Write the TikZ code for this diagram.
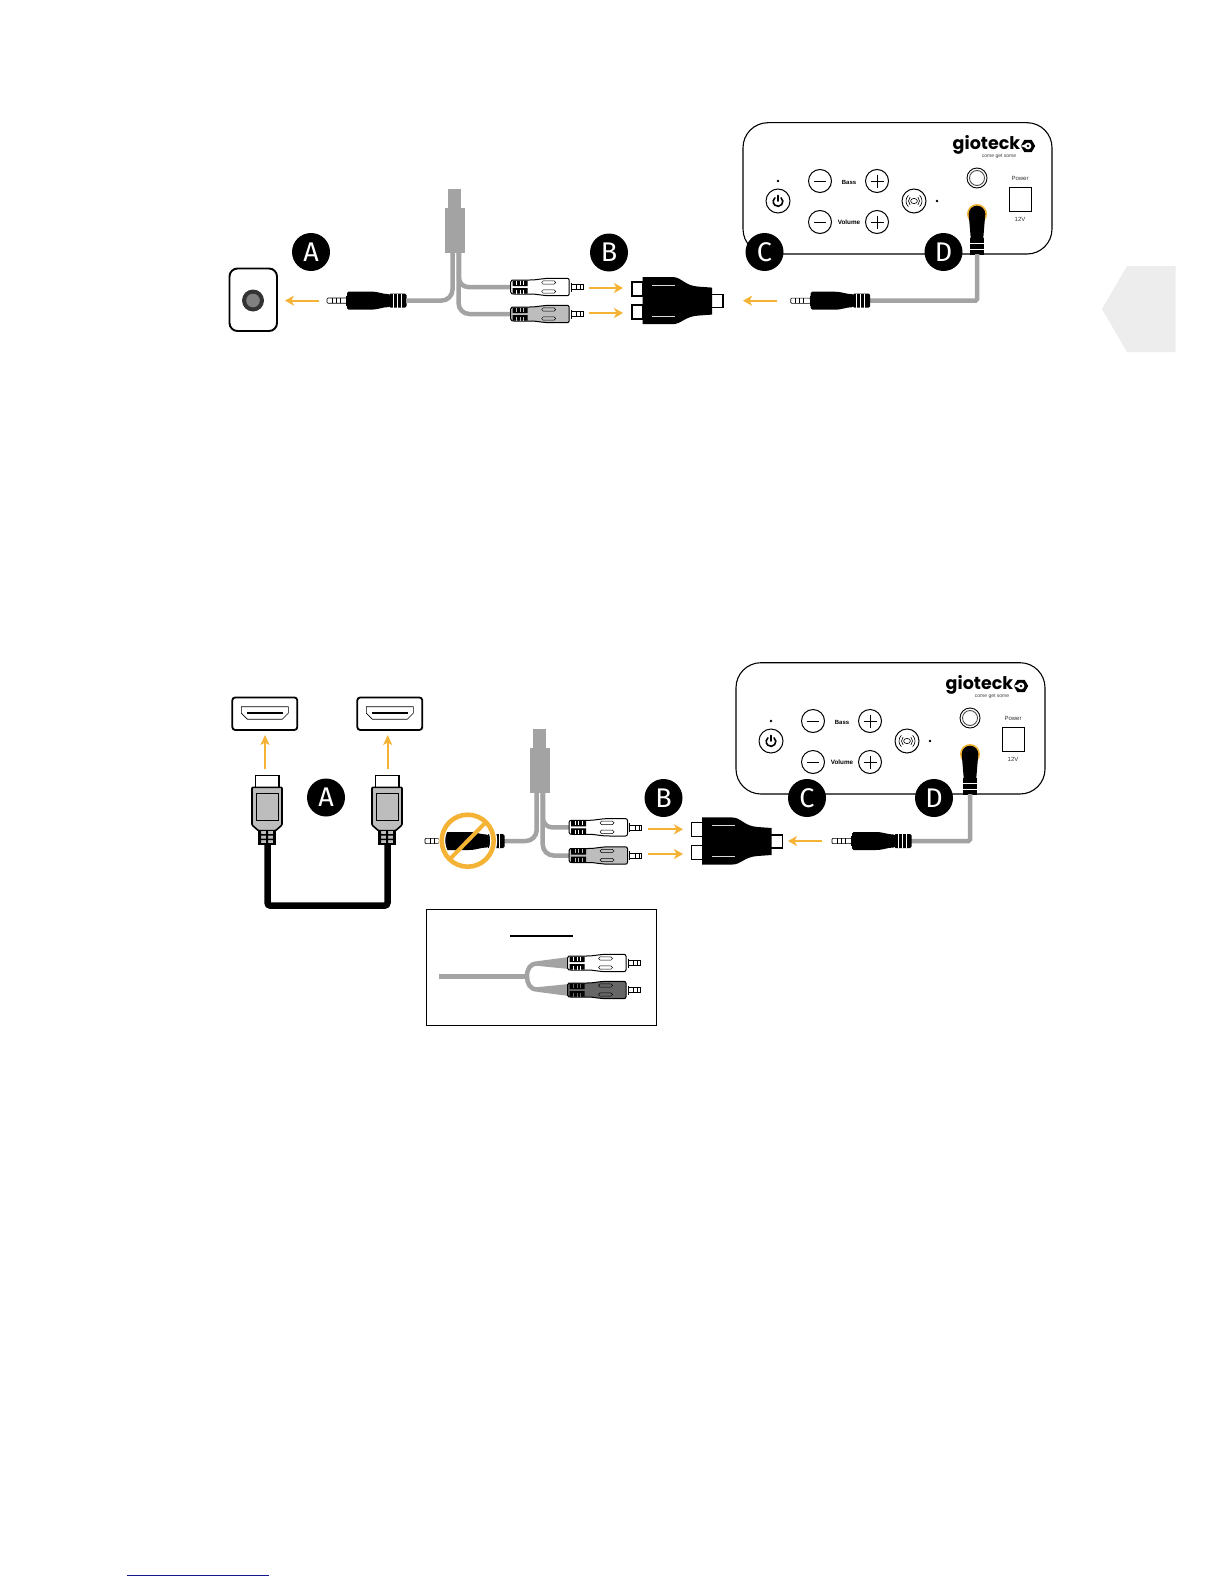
\documentclass[tikz,border=0pt]{standalone}
\usepackage{fontspec}
\setmainfont{Liberation Sans}
\newfontfamily\logofont{Poppins}
\newfontfamily\badgefont{Fira Sans}
\usetikzlibrary{arrows.meta,calc}
\definecolor{amber}{HTML}{F5B335}
\definecolor{cablegray}{HTML}{A3A3A3}
\definecolor{plugfill}{HTML}{BDBDBD}
\definecolor{tabgray}{HTML}{EDEDED}
\definecolor{linkblue}{HTML}{16168C}
\tikzset{
  x=1pt,y=-1pt,
  flow/.style={draw=amber,line width=1.8pt,-{Stealth[length=9pt,width=10pt,inset=2.5pt]}},
  flowthin/.style={draw=amber,line width=1.6pt,-{Stealth[length=10pt,width=9pt,inset=2.5pt]}},
  cable/.style={draw=cablegray,line width=4.5pt},
  badge/.style={circle,fill=black,text=white,minimum size=38pt,inner sep=0pt,font=\badgefont\fontsize{27}{27}\selectfont},
  paneltxt/.style={inner sep=0pt,font=\fontsize{6}{6}\selectfont},
  panelbtn/.style={draw=black,line width=1pt,fill=white},
  plugjack/.pic={
    \draw[black,line width=.6pt,fill=white,rounded corners=1pt] (0,-2.6) rectangle (20,2.6);
    \draw[black,line width=.5pt] (5,-2.6)--(5,2.6) (9,-2.6)--(9,2.6) (13,-2.6)--(13,2.6);
    \draw[black,line width=1pt] (19.5,-5)--(19.5,5);
    \fill[black,rounded corners=1.5pt] (20,-9) -- (42,-9) .. controls (52,-9) and (55,-6.5) .. (63,-6.5) -- (63,6.5) .. controls (55,6.5) and (52,9) .. (42,9) -- (20,9) -- cycle;
    \fill[black,rounded corners=1.5pt] (62,-7) rectangle (79.5,7);
    \draw[white,line width=.9pt] (66,-7)--(66,7) (70,-7)--(70,7) (74,-7)--(74,7);
  },
  rcabody/.pic={
    \draw[black,line width=1pt,fill=\pgfkeysvalueof{/tikz/rcafill},rounded corners=2pt]
      (0,-3) .. controls (0,-7) and (2,-7) .. (5,-7) -- (17,-7) .. controls (28,-7) and (30,-8.7) .. (43,-8.7) -- (58.5,-8.7) -- (58.5,8.7) -- (43,8.7) .. controls (30,8.7) and (28,7) .. (17,7) -- (5,7) .. controls (2,7) and (0,7) .. (0,3) -- cycle;
    \fill[black] (2,-6.5) rectangle (17,-1) (2,1) rectangle (17,6.5);
    \draw[\pgfkeysvalueof{/tikz/rcafill},line width=.7pt] (6,-6.5)--(6,-2.5) (9.5,-6.5)--(9.5,-2.5) (13,-6.5)--(13,-2.5) (6,2.5)--(6,6.5) (9.5,2.5)--(9.5,6.5) (13,2.5)--(13,6.5);
    \draw[black,line width=.5pt,rounded corners=1.6pt] (31,-6.2) rectangle (45,-2.8) (31,2.8) rectangle (45,6.2);
    \draw[black,line width=1pt] (60.5,-4.5)--(60.5,4.5);
    \draw[black,line width=.6pt] (60.5,-2.5) rectangle (72.5,2.5);
    \draw[black,line width=.6pt] (66,-2.5)--(66,2.5) (70,-2.5)--(70,2.5);
  },
  rcafill/.initial=white,
  splitter/.pic={
    \fill[cablegray] (3,-19.5) rectangle (16,0);
    \fill[cablegray] (0,0) rectangle (20,44.5);
  },
  adapter/.pic={
    \draw[black,line width=1.6pt,fill=white] (0,-18.6) rectangle (11,-4.6);
    \draw[black,line width=1.6pt,fill=white] (0,4.4) rectangle (11,18.4);
    \draw[black,line width=1.4pt,fill=white] (79,-6) rectangle (91,7);
    \fill[black] (10.7,-23.6) -- (40,-23.6) .. controls (50,-23.6) and (52,-15) .. (66,-14) -- (80,-13) -- (80,14) -- (66,15) .. controls (52,16) and (50,23.6) .. (40,23.6) -- (10.7,23.6) -- cycle;
    \draw[white!85!black,line width=.9pt] (20,-15.6)--(43,-15.6) (20,15.4)--(43,15.4);
  },
  hdmiport/.pic={
    \draw[black,line width=1.8pt,rounded corners=3pt,fill=white] (-32.5,-16.3) rectangle (32.5,16.3);
    \draw[black,line width=.6pt] (-23.5,-7) -- (23.5,-7) -- (23.5,-.5) -- (17.5,5.5) -- (-17.5,5.5) -- (-23.5,-.5) -- cycle;
    \draw[black,line width=1.8pt] (-18,-.5) -- (18,-.5);
  },
  hdmiplug/.pic={
    \draw[black,line width=1.4pt,fill=white] (-11.5,0) rectangle (12,11.6);
    \draw[black,line width=1.6pt,fill=plugfill,rounded corners=1pt] (-15,11.6) -- (15,11.6) -- (15,49.3) -- (8.5,55) -- (-8.5,55) -- (-15,49.3) -- cycle;
    \draw[black,line width=.8pt] (-11,17.6) rectangle (11.7,44.3);
    \draw[black,line width=1.4pt,fill=plugfill] (-8.5,55) rectangle (8.5,68.3);
    \fill[black] (-8.5,55) rectangle (-6,68.3) (6,55) rectangle (8.5,68.3) (-1,55) rectangle (1,68.3);
    \fill[black] (-8.5,58.5) rectangle (8.5,60) (-8.5,63) rectangle (8.5,64.5);
  },
  panelpic/.pic={
    \draw[black,line width=1.1pt,fill=white,rounded corners=25pt] (743,122.7) rectangle (1052,254);
    % logo
    \node[anchor=base west,inner sep=0pt,text depth=0pt,font=\logofont\bfseries\fontsize{17.5}{17.5}\selectfont] (logo) at (952.5,149.6) {gioteck};
    \node[inner sep=0pt,font=\fontsize{5}{5}\selectfont,text=black!75] (tag) at (999,156.6) {come get some};
    \fill[black] (1020.8,146) -- (1024.4,139.8) -- (1031.6,139.8) -- (1035.2,146) -- (1031.6,152.2) -- (1024.4,152.2) -- cycle;
    \fill[white] (1028,146) circle[radius=3.4];
    \fill[black] (1028,146) circle[radius=1.4];
    \fill[white] (1020.5,146) -- (1025,144.4) -- (1025,147.6) -- cycle;
    % left power button
    \fill[black] (778,181) circle[radius=1.3];
    \draw[panelbtn] (778,201) circle[radius=12];
    \draw[black,line width=1.6pt,line cap=round] (778,195.5) -- (778,201);
    \draw[black,line width=1.6pt,line cap=round] (778,201.5) ++(-50:4.8) arc[start angle=-50,end angle=230,radius=4.8];
    % bass and volume
    \foreach \bx/\by in {820/181,820/222}{
      \draw[panelbtn] (\bx,\by) circle[radius=11.5];
      \draw[black,line width=.9pt] (\bx-6,\by) -- (\bx+6,\by);
    }
    \foreach \bx/\by in {877/181,877/222}{
      \draw[panelbtn] (\bx,\by) circle[radius=11.5];
      \draw[black,line width=.9pt] (\bx-6.5,\by) -- (\bx+6.5,\by) (\bx,\by-6.5) -- (\bx,\by+6.5);
    }
    \node[paneltxt,font=\bfseries\fontsize{6}{6}\selectfont] (bass) at (849,182) {Bass};
    \node[paneltxt,font=\bfseries\fontsize{6.3}{6.3}\selectfont] (volume) at (849,222.5) {Volume};
    % sound button
    \draw[panelbtn] (914,201) circle[radius=12];
    \draw[black,line width=.6pt] (914,201) ellipse[x radius=3.4,y radius=2.6];
    \draw[black,line width=.6pt]
      (914,201) ++(135:5.5) arc[start angle=135,end angle=225,radius=5.5]
      (914,201) ++(45:5.5) arc[start angle=45,end angle=-45,radius=5.5]
      (914,201) ++(135:8) arc[start angle=135,end angle=225,radius=8]
      (914,201) ++(45:8) arc[start angle=45,end angle=-45,radius=8];
    \fill[black] (937,201) circle[radius=1.3];
    % knob
    \draw[black,line width=.9pt] (977,178) circle[radius=10];
    \draw[black!70,line width=.9pt] (977,178) circle[radius=7.5];
    % power
    \node[paneltxt,text=black!80] (power) at (1020,178) {Power};
    \draw[black,line width=.9pt] (1009.5,187) rectangle (1031,211.5);
    \node[paneltxt,text=black!80] (volt) at (1020,219) {12V};
    % jack
    \fill[amber] (977,214) circle[radius=10];
    \fill[black] (968.7,214) arc[start angle=180,end angle=360,radius=8.3] -- (983.2,239) -- (970.8,239) -- cycle;
    \fill[black] (970,238) rectangle (984,254.5);
    \draw[white,line width=.9pt] (970,243.3)--(984,243.3) (970,249)--(984,249);
  }
}
\begin{document}
\begin{tikzpicture}
\useasboundingbox (0,0) rectangle (1224,1584);
\fill[white] (0,0) rectangle (1224,1584);

% side tab and footer rule
\fill[tabgray] (1127,266) -- (1175.5,266) -- (1175.5,352) -- (1127,352) -- (1102,309) -- cycle;
\draw[linkblue,line width=1pt] (127,1575) -- (269,1575);

% ---------- upper diagram ----------
\pic (pa) at (0,0) {panelpic};
\draw[black,line width=1.9pt,rounded corners=8pt,fill=white] (229.5,268.5) rectangle (277,331);
\fill[black!80] (253,300.5) circle[radius=11];
\fill[black!50] (253,300.5) circle[radius=6.8];

\coordinate (ua1) at (319,300.6); \coordinate (ua2) at (285,300.6);
\draw[flow] (ua1) -- (ua2);
\pic at (327,300.6) {plugjack};
\pic at (445,208) {splitter};
\coordinate (ujack) at (406,300.6);
\draw[cable,rounded corners=11pt] (ujack) -- (452.5,300.6) -- (452.5,250);
\draw[cable,rounded corners=9pt] (459,250) -- (459,287) -- (512,287);
\draw[cable,rounded corners=11pt] (458.5,250) -- (458.5,314) -- (512,314);
\pic[rcafill=white] at (510.7,287) {rcabody};
\pic[rcafill=plugfill] at (510.7,314) {rcabody};
\coordinate (ub1s) at (589,288); \coordinate (ub1e) at (623,288);
\coordinate (ub2s) at (589,313); \coordinate (ub2e) at (623,313);
\draw[flow] (ub1s) -- (ub1e);
\draw[flow] (ub2s) -- (ub2e);
\pic at (632,300.6) {adapter};
\coordinate (uc1) at (777,300.7); \coordinate (uc2) at (743,300.7);
\draw[flow] (uc1) -- (uc2);
\coordinate (uend) at (977,254);
\draw[cable,rounded corners=1.5pt] (uend) -- (977,300.7) -- (868,300.7);
\pic at (790.7,300.7) {plugjack};

\node[badge] (ubA) at (311,252) {A};
\node[badge] (ubB) at (609,252.5) {B};
\node[badge] (ubC) at (764.5,252) {C};
\node[badge] (ubD) at (943.5,252) {D};

% ---------- lower diagram ----------
\pic (pb) at (-7,540) {panelpic};

\pic at (264.8,713.7) {hdmiport};
\pic at (389.8,713.7) {hdmiport};
\coordinate (la1s) at (265,769); \coordinate (la1e) at (265,735);
\coordinate (la2s) at (387.7,769); \coordinate (la2e) at (387.7,735);
\draw[flowthin] (la1s) -- (la1e);
\draw[flowthin] (la2s) -- (la2e);
\coordinate (hl) at (267.5,843); \coordinate (hr) at (387.5,843);
\draw[black,line width=6.5pt,rounded corners=3pt] (hl) -- (267.5,905.7) -- (387.5,905.7) -- (hr);
\pic at (267,775.7) {hdmiplug};
\pic at (387,775.7) {hdmiplug};
\node[badge] (lbA) at (326,797.5) {A};

\pic at (529.7,748) {splitter};
\coordinate (ljack) at (504,841);
\draw[cable,rounded corners=11pt] (ljack) -- (536.7,841) -- (536.7,790);
\draw[cable,rounded corners=9pt] (543,790) -- (543,827.3) -- (571,827.3);
\draw[cable,rounded corners=11pt] (542.7,790) -- (542.7,855.5) -- (571,855.5);
\pic at (425,841) {plugjack};
\draw[white,line width=7pt] (467.7,840.7) circle[radius=26];
\draw[amber,line width=4.6pt] (467.7,840.7) circle[radius=26];
\coordinate (nos) at (449,860); \coordinate (noe) at (486.5,821.5);
\draw[amber,line width=4pt] (nos) -- (noe);
\pic[rcafill=white] at (569,827.3) {rcabody};
\pic[rcafill=plugfill] at (569,855.5) {rcabody};
\coordinate (lb1s) at (648,829.3); \coordinate (lb1e) at (683,829.3);
\coordinate (lb2s) at (648,854); \coordinate (lb2e) at (683,854);
\draw[flow] (lb1s) -- (lb1e);
\draw[flow] (lb2s) -- (lb2e);
\pic at (691.5,841) {adapter};
\coordinate (lc1) at (822,841); \coordinate (lc2) at (788,841);
\draw[flow] (lc1) -- (lc2);
\coordinate (lend) at (970,794);
\draw[cable,rounded corners=1.5pt] (lend) -- (970,841) -- (909,841);
\pic at (832,841) {plugjack};

\node[badge] (lbB) at (663.5,798) {B};
\node[badge] (lbC) at (807,798) {C};
\node[badge] (lbD) at (934,798) {D};

% inset
\draw[black,line width=1pt] (426.3,909.3) rectangle (656.7,1025.7);
\draw[black,line width=1.6pt] (510,936) -- (573.3,936);
\draw[cable] (439,976.3) -- (527,976.3);
\draw[cable] (537.5,963.5) .. controls (530,963.5) and (527,969) .. (527,976.3) .. controls (527,983.5) and (530,989.5) .. (537.5,989.5);
\fill[cablegray] (537,961.2) -- (569,957) -- (569,969) -- (537,965.8) -- cycle;
\fill[cablegray] (537,987.2) -- (569,984) -- (569,996) -- (537,991.8) -- cycle;
\pic[rcafill=white] at (567.5,963) {rcabody};
\pic[rcafill=black!60] at (567.5,990) {rcabody};
\end{tikzpicture}
\end{document}
